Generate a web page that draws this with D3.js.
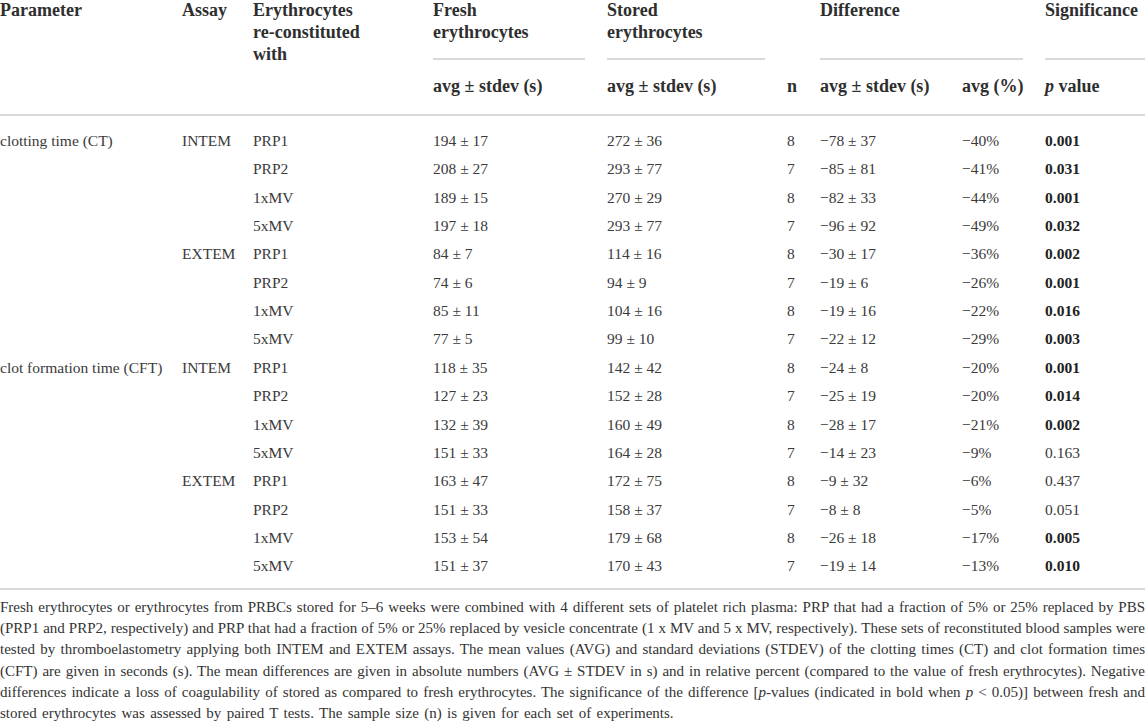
<!DOCTYPE html>
<html>
<head>
<meta charset="utf-8">
<script src="https://cdn.jsdelivr.net/npm/d3@7"></script>
<style>
  body { margin: 0; background: #fff; }
  #note { position: absolute; left: 0; top: 597px; width: 1145px;
          font-family: "Liberation Serif", serif; font-size: 15px; color: #333; line-height: 21.2px; }
  #note div { text-align: justify; text-align-last: justify; white-space: nowrap; }
  #note div.last { text-align-last: left; word-spacing: 1.6px; }
</style>
</head>
<body>
<svg id="table"></svg>
<div id="note"></div>
<script>
// table data
const parameters = ["clotting time (CT)", "", "", "", "", "", "", "",
                    "clot formation time (CFT)", "", "", "", "", "", "", ""];
const assays = ["INTEM", "", "", "", "EXTEM", "", "", "",
                "INTEM", "", "", "", "EXTEM", "", "", ""];
const reconstituted = ["PRP1", "PRP2", "1xMV", "5xMV", "PRP1", "PRP2", "1xMV", "5xMV",
                       "PRP1", "PRP2", "1xMV", "5xMV", "PRP1", "PRP2", "1xMV", "5xMV"];
const freshAvg = [194, 208, 189, 197, 84, 74, 85, 77, 118, 127, 132, 151, 163, 151, 153, 151];
const freshSd  = [17, 27, 15, 18, 7, 6, 11, 5, 35, 23, 39, 33, 47, 33, 54, 37];
const storedAvg = [272, 293, 270, 293, 114, 94, 104, 99, 142, 152, 160, 164, 172, 158, 179, 170];
const storedSd  = [36, 77, 29, 77, 16, 9, 16, 10, 42, 28, 49, 28, 75, 37, 68, 43];
const nSamples = [8, 7, 8, 7, 8, 7, 8, 7, 8, 7, 8, 7, 8, 7, 8, 7];
const diffAvg = [-78, -85, -82, -96, -30, -19, -19, -22, -24, -25, -28, -14, -9, -8, -26, -19];
const diffSd  = [37, 81, 33, 92, 17, 6, 16, 12, 8, 19, 17, 23, 32, 8, 18, 14];
const diffPct = [-40, -41, -44, -49, -36, -26, -22, -29, -20, -20, -21, -9, -6, -5, -17, -13];
const pValues = ["0.001", "0.031", "0.001", "0.032", "0.002", "0.001", "0.016", "0.003",
                 "0.001", "0.014", "0.002", "0.163", "0.437", "0.051", "0.005", "0.010"];

const groupHeaders = [
  { col: "param", lines: ["Parameter"] },
  { col: "assay", lines: ["Assay"] },
  { col: "recon", lines: ["Erythrocytes", "re-constituted", "with"] },
  { col: "fresh", lines: ["Fresh", "erythrocytes"], rule: ["fresh", "freshEnd"] },
  { col: "stored", lines: ["Stored", "erythrocytes"], rule: ["stored", "storedEnd"] },
  { col: "diff", lines: ["Difference"], rule: ["diff", "diffEnd"] },
  { col: "sig", lines: ["Significance"], rule: ["sig", "sigEnd"] }
];
const subHeaders = [
  { col: "fresh", text: "avg ± stdev (s)" },
  { col: "stored", text: "avg ± stdev (s)" },
  { col: "n", text: "n" },
  { col: "diff", text: "avg ± stdev (s)" },
  { col: "pct", text: "avg (%)" },
  { col: "sig", text: "value", italic: "p" }
];

const footnote = [
  "Fresh erythrocytes or erythrocytes from PRBCs stored for 5–6 weeks were combined with 4 different sets of platelet rich plasma: PRP that had a fraction of 5% or 25% replaced by PBS",
  "(PRP1 and PRP2, respectively) and PRP that had a fraction of 5% or 25% replaced by vesicle concentrate (1 x MV and 5 x MV, respectively). These sets of reconstituted blood samples were",
  "tested by thromboelastometry applying both INTEM and EXTEM assays. The mean values (AVG) and standard deviations (STDEV) of the clotting times (CT) and clot formation times",
  "(CFT) are given in seconds (s). The mean differences are given in absolute numbers (AVG ± STDEV in s) and in relative percent (compared to the value of fresh erythrocytes). Negative",
  "differences indicate a loss of coagulability of stored as compared to fresh erythrocytes. The significance of the difference [<i>p</i>-values (indicated in bold when <i>p</i> &lt; 0.05)] between fresh and",
  "stored erythrocytes was assessed by paired T tests. The sample size (n) is given for each set of experiments."
];

const W = 1145, H = 595;
const fmt = v => (v < 0 ? "\u2212" + Math.abs(v) : "" + v);

const svg = d3.select("#table").attr("width", W).attr("height", H)
  .style("display", "block")
  .style("font-family", "'Liberation Serif', serif");

const colX = d3.scaleOrdinal()
  .domain(["param", "assay", "recon", "fresh", "freshEnd", "stored", "storedEnd", "n", "diff", "diffEnd", "pct", "sig", "sigEnd"])
  .range([0, 182, 253, 433, 585, 607, 765, 787, 820, 1023, 962, 1045, 1145]);

const rowY = d3.scaleBand().domain(d3.range(parameters.length)).range([128, 582]);
const headLineY = d3.scaleLinear().domain([0, 1]).range([12, 34]);
const ruleColor = "#cdcdcd";

// header block
const heads = svg.append("g").attr("font-weight", "bold").attr("font-size", 18).attr("fill", "#2e2e2e");
groupHeaders.forEach(h => {
  heads.selectAll(null).data(h.lines).enter().append("text")
    .attr("x", colX(h.col)).attr("y", (d, i) => headLineY(i))
    .attr("dominant-baseline", "middle").text(d => d);
  if (h.rule) {
    svg.append("line").attr("x1", colX(h.rule[0])).attr("x2", colX(h.rule[1]))
      .attr("y1", 59).attr("y2", 59).attr("stroke", ruleColor).attr("stroke-width", 1.5);
  }
});
subHeaders.forEach(h => {
  const t = heads.append("text").attr("x", colX(h.col)).attr("y", 88).attr("dominant-baseline", "middle");
  if (h.italic) { t.append("tspan").attr("font-style", "italic").text(h.italic + " "); }
  t.append("tspan").text(h.text);
});

// horizontal rules
[115, 589].forEach(y => {
  svg.append("line").attr("x1", 0).attr("x2", W).attr("y1", y).attr("y2", y)
    .attr("stroke", ruleColor).attr("stroke-width", 1.5);
});

// body rows
const rows = svg.append("g").attr("font-size", 15.5).attr("fill", "#3a3a3a")
  .selectAll("g").data(d3.range(parameters.length)).enter().append("g")
  .attr("transform", i => `translate(0,${rowY(i) + rowY.bandwidth() / 2})`);

const cells = i => [
  { col: "param", text: parameters[i] },
  { col: "assay", text: assays[i] },
  { col: "recon", text: reconstituted[i] },
  { col: "fresh", text: `${freshAvg[i]} ± ${freshSd[i]}` },
  { col: "stored", text: `${storedAvg[i]} ± ${storedSd[i]}` },
  { col: "n", text: nSamples[i] },
  { col: "diff", text: `${fmt(diffAvg[i])} ± ${diffSd[i]}` },
  { col: "pct", text: fmt(diffPct[i]) + "%" },
  { col: "sig", text: pValues[i], bold: +pValues[i] < 0.05 }
];

rows.selectAll("text").data(i => cells(i)).enter().append("text")
  .attr("x", d => colX(d.col)).attr("y", 0)
  .attr("dominant-baseline", "middle")
  .attr("font-weight", d => d.bold ? "bold" : null)
  .attr("fill", d => d.bold ? "#222" : null)
  .text(d => d.text);

// footnote
d3.select("#note").selectAll("div").data(footnote).enter().append("div")
  .attr("class", (d, i) => i === footnote.length - 1 ? "last" : null)
  .html(d => d);
</script>
</body>
</html>
